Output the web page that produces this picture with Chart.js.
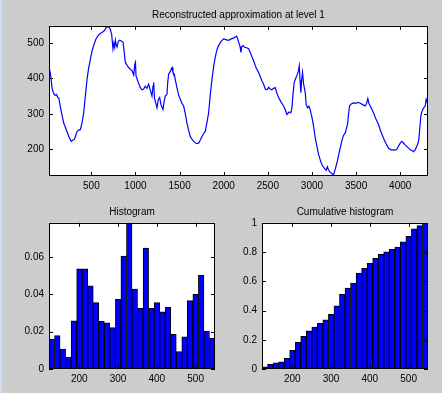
<!DOCTYPE html>
<html>
<head>
<meta charset="utf-8">
<script src="https://cdn.jsdelivr.net/npm/chart.js@4.4.0/dist/chart.umd.min.js"></script>
<style>
  html, body { margin: 0; padding: 0; }
  body { width: 442px; height: 393px; background: #cccccc; position: relative; overflow: hidden; }
  #edge { position: absolute; left: 0; top: 0; width: 2px; height: 393px; background: #cde0f3; }
  canvas { position: absolute; }
</style>
</head>
<body>
<div id="edge"></div>
<canvas id="signal" width="442" height="200" style="left:0;top:0"></canvas>
<canvas id="hist" width="230" height="193" style="left:0;top:200px"></canvas>
<canvas id="cumul" width="222" height="193" style="left:220px;top:200px"></canvas>
<script>
// reconstructed signal (sample index / amplitude)
const sampleIndex = [20,35,43,55,73,90,105,119,130,141,160,187,205,224,245,262,273,290,307,322,338,355,375,395,413,430,451,470,489,508,526,550,572,600,621,645,662,675,685,700,715,730,745,755,765,772,782,791,805,821,840,859,870,885,905,923,945,961,980,992,1000,1006,1030,1055,1075,1093,1110,1130,1149,1165,1187,1200,1206,1215,1230,1244,1258,1274,1290,1312,1325,1338,1357,1366,1376,1395,1414,1425,1440,1455,1470,1490,1508,1525,1546,1565,1583,1600,1621,1640,1659,1690,1716,1735,1753,1775,1791,1810,1829,1848,1867,1885,1904,1922,1942,1970,1999,2025,2055,2085,2112,2142,2155,2169,2185,2195,2205,2218,2240,2260,2282,2310,2338,2365,2395,2415,2433,2450,2471,2490,2510,2527,2545,2565,2584,2600,2622,2650,2678,2700,2716,2740,2760,2773,2785,2799,2815,2829,2845,2856,2865,2874,2885,2893,2905,2924,2935,2950,2965,2980,3000,3018,3035,3056,3075,3093,3115,3139,3160,3175,3188,3205,3225,3244,3260,3282,3300,3320,3340,3355,3377,3390,3403,3415,3426,3445,3471,3500,3520,3547,3575,3603,3620,3633,3645,3660,3680,3697,3725,3754,3780,3811,3840,3867,3895,3924,3945,3962,3980,4000,4019,4035,4056,4085,4113,4135,4151,4170,4188,4200,4211,4222,4234,4245,4256,4270,4283,4294,4305,4313];
const amplitude = [431,415,400,372,357,352,355,346,345,331,305,274,262,250,235,227,222,226,227,238,250,254,255,275,303,345,398,430,455,478,493,510,520,527,530,535,541,548,546,545,539,525,484,500,488,508,495,489,505,508,506,503,480,446,437,431,425,422,410,440,446,408,390,374,368,370,378,372,384,370,350,380,389,345,330,317,340,346,325,312,335,350,355,390,412,420,431,418,412,392,374,352,341,330,322,300,274,255,236,228,222,216,217,226,236,245,250,275,303,355,398,432,460,480,493,505,512,510,508,512,514,520,515,503,490,474,490,493,488,487,484,468,450,432,417,405,393,385,370,368,375,370,368,372,374,360,346,333,322,310,298,305,303,317,355,389,400,408,420,436,395,360,400,417,385,360,325,317,322,312,290,265,235,208,185,170,155,146,140,150,141,135,131,127,140,160,180,203,225,238,246,258,270,300,322,328,331,330,332,330,326,322,330,343,330,322,312,303,285,270,250,231,215,203,198,198,197,200,208,217,222,218,212,205,198,196,193,198,208,215,227,260,293,305,312,318,322,341,333,327];

// histogram bins (bin centres) and heights
const binCentres = [129,143,158,172,186,200,215,229,243,258,272,286,300,315,329,343,358,372,386,400,415,429,443,458,472,486,500,515,529,543];
const histHeight = [0.0161,0.0179,0.0107,0.0063,0.0258,0.0537,0.0537,0.0446,0.0356,0.0255,0.0248,0.0222,0.0374,0.0605,0.0784,0.0428,0.0325,0.0649,0.0325,0.0356,0.0307,0.0331,0.0186,0.0094,0.0172,0.0367,0.0401,0.0502,0.0204,0.0166];
const cumulHeight = [0.015,0.032,0.042,0.049,0.073,0.127,0.182,0.224,0.261,0.287,0.313,0.337,0.374,0.432,0.511,0.553,0.587,0.654,0.689,0.723,0.757,0.786,0.802,0.818,0.834,0.869,0.907,0.958,0.981,1.0];

const signalXTicks = [500,1000,1500,2000,2500,3000,3500,4000];
const signalYTicks = [200,300,400,500];
const binXTicks = [200,300,400,500];
const histYTicks = [0,0.02,0.04,0.06];
const cumulYTicks = [0,0.2,0.4,0.6,0.8,1];

const FONT = 'Liberation Sans, Arial, sans-serif';

// white axes background, black box and inward ticks on all four sides
const matlabAxes = {
    id: 'matlabAxes',
    beforeDraw(chart) {
        const a = chart.chartArea, ctx = chart.ctx;
        ctx.save();
        ctx.fillStyle = '#fff';
        ctx.fillRect(a.left, a.top, a.right - a.left, a.bottom - a.top);
        ctx.restore();
    },
    afterDraw(chart) {
        const a = chart.chartArea, ctx = chart.ctx;
        ctx.save();
        ctx.strokeStyle = '#000';
        ctx.lineWidth = 1;
        ctx.strokeRect(Math.round(a.left) + 0.5, Math.round(a.top) + 0.5,
            Math.round(a.right - a.left) - 1, Math.round(a.bottom - a.top) - 1);
        ctx.beginPath();
        Object.values(chart.scales).forEach(s => {
            if (s.options.display === false) return;
            s.ticks.forEach(t => {
                const p = Math.round(s.getPixelForValue(t.value)) + 0.5;
                if (s.isHorizontal()) {
                    ctx.moveTo(p, a.bottom); ctx.lineTo(p, a.bottom - 4);
                    ctx.moveTo(p, a.top); ctx.lineTo(p, a.top + 4);
                } else {
                    ctx.moveTo(a.left, p); ctx.lineTo(a.left + 4, p);
                    ctx.moveTo(a.right, p); ctx.lineTo(a.right - 4, p);
                }
            });
        });
        ctx.stroke();
        ctx.restore();
    }
};

function axis(min, max, tickValues, fit, horizontal) {
    return {
        type: 'linear',
        min: min,
        max: max,
        offset: false,
        position: horizontal ? 'bottom' : 'left',
        grid: { display: false, drawTicks: false, offset: false },
        border: { display: false },
        ticks: {
            color: '#000',
            font: { family: FONT, size: 10 },
            padding: horizontal ? 4 : 5,
            maxRotation: 0,
            autoSkip: false,
            callback: v => String(v)
        },
        afterBuildTicks: s => { s.ticks = tickValues.map(v => ({ value: v })); },
        afterFit: s => { if (horizontal) s.height = fit; else s.width = fit; }
    };
}

function title(text, top) {
    return {
        display: true,
        text: text,
        color: '#000',
        fullSize: false,
        font: { family: FONT, size: 10, weight: 'normal' },
        padding: { top: top, bottom: 4.4 }
    };
}

Chart.defaults.animation = false;
Chart.defaults.responsive = false;
Chart.defaults.devicePixelRatio = 1;

// top: reconstructed approximation
new Chart(document.getElementById('signal'), {
    type: 'line',
    data: {
        datasets: [{
            data: sampleIndex.map((x, i) => ({ x: x, y: amplitude[i] })),
            borderColor: '#0000ff',
            borderWidth: 1.2,
            pointRadius: 0,
            tension: 0
        }]
    },
    options: {
        layout: { padding: { right: 14, left: 0, top: 0, bottom: 0 } },
        plugins: { legend: { display: false }, tooltip: { enabled: false }, title: title('Reconstructed approximation at level 1', 9.4) },
        scales: {
            x: axis(20, 4315, signalXTicks, 24, true),
            y: axis(124, 549, signalYTicks, 49, false)
        }
    },
    plugins: [matlabAxes]
});

function barChart(canvasId, values, yMax, yTicks, yWidth, rightPad, titleText) {
    return new Chart(document.getElementById(canvasId), {
        type: 'bar',
        data: {
            labels: binCentres,
            datasets: [{
                data: values,
                backgroundColor: '#0000ff',
                borderColor: '#000',
                borderWidth: 1,
                categoryPercentage: 1,
                barPercentage: 1,
                xAxisID: 'x'
            }]
        },
        options: {
            layout: { padding: { right: rightPad, left: 0, top: 0, bottom: 0 } },
            plugins: { legend: { display: false }, tooltip: { enabled: false }, title: title(titleText, 6.4) },
            scales: {
                x: { type: 'category', display: false, offset: true },
                x2: Object.assign(axis(122, 550, binXTicks, 24, true), { axis: 'x' }),
                y: axis(0, yMax, yTicks, yWidth, false)
            }
        },
        plugins: [matlabAxes]
    });
}

barChart('hist', histHeight, 0.0784, histYTicks, 49, 15, 'Histogram');
barChart('cumul', cumulHeight, 1, cumulYTicks, 42, 14, 'Cumulative histogram');
</script>
</body>
</html>
